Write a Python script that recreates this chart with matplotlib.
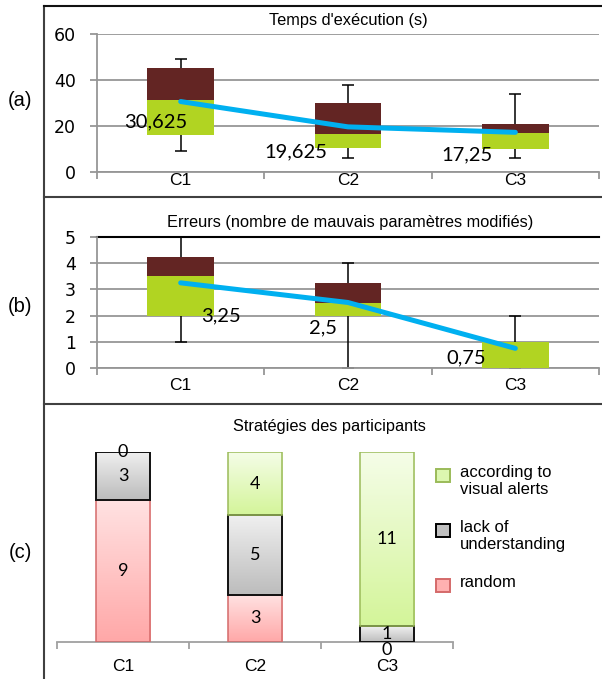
import numpy as np
import matplotlib
matplotlib.use('Agg')
import matplotlib.pyplot as plt
from matplotlib.colors import LinearSegmentedColormap
from matplotlib.patches import Rectangle
from matplotlib.lines import Line2D

plt.rcParams['font.family'] = ['Liberation Sans', 'DejaVu Sans']

categories = ['C1', 'C2', 'C3']

# (a) temps d'exécution : boîtes (q1, médiane, q3), moustaches, moyenne
time_q1 = [16, 10.5, 10]
time_med = [31.5, 16.5, 17]
time_q3 = [45, 30, 21]
time_min = [9, 6, 6]
time_max = [49, 38, 34]
time_mean = [30.625, 19.625, 17.25]

# (b) erreurs
err_q1 = [2, 2, 0]
err_med = [3.5, 2.5, 1]
err_q3 = [4.25, 3.25, 1]
err_min = [1, 0, 0]
err_max = [5, 4, 2]
err_mean = [3.25, 2.5, 0.75]

# (c) stratégies (empilées de bas en haut)
strategy_names = ['random', 'lack of\nunderstanding', 'according to\nvisual alerts']
random_cnt = [9, 3, 0]
lack_cnt = [3, 5, 1]
alerts_cnt = [0, 4, 11]

GREEN = '#b1d422'
DARK = '#632523'
BLUE = '#00b0f0'
GRID = '#969696'

W, H = 602, 679
fig = plt.figure(figsize=(W / 100, H / 100), dpi=100)


def px_rect(left, right, top, bottom):
    return [left / W, 1 - bottom / H, (right - left) / W, (bottom - top) / H]


def box_panel(ax, q1, med, q3, lo, hi, mean, ymax, step, offsets, xpad):
    q1, med, q3 = np.array(q1), np.array(med), np.array(q3)
    lo, hi = np.array(lo), np.array(hi)
    x = np.arange(len(categories)) + 0.5
    ax.errorbar(x, (lo + hi) / 2, yerr=(hi - lo) / 2, fmt='none', ecolor='black',
                elinewidth=1.1, capsize=4.3, capthick=1.1, zorder=2)
    ax.bar(x, med - q1, bottom=q1, width=0.4, color=GREEN, zorder=3)
    ax.bar(x, q3 - med, bottom=med, width=0.4, color=DARK, zorder=3)
    ax.plot(x, mean, color=BLUE, lw=3.6, solid_capstyle='round', zorder=4)
    for xi, m, (dx, dy) in zip(x, mean, offsets):
        ax.annotate(f'{m:g}'.replace('.', ','), (xi, m), xytext=(dx * 0.72, dy * 0.72),
                    textcoords='offset points', ha='center', va='center',
                    fontsize=14.5, family='Lato', zorder=5)
    ax.set_xlim(0, 3)
    ax.set_ylim(0, ymax)
    yt = np.arange(0, ymax + 0.1, step)
    ax.set_yticks(yt)
    ax.set_yticklabels([f'{t:g}' for t in yt], fontfamily='DejaVu Sans', fontsize=12.5)
    ax.tick_params(axis='y', length=5, width=1.3, color=GRID, pad=10)
    ax.set_xticks(x)
    ax.set_xticklabels(categories, fontsize=12.5)
    ax.set_xticks(np.arange(4), minor=True)
    ax.tick_params(axis='x', which='major', length=0, pad=xpad)
    ax.tick_params(axis='x', which='minor', length=5, width=1.3, color=GRID)
    ax.yaxis.grid(True, color=GRID, lw=1.3)
    ax.set_axisbelow(True)
    for s in ['top', 'right']:
        ax.spines[s].set_visible(False)
    for s in ['left', 'bottom']:
        ax.spines[s].set_color(GRID)
        ax.spines[s].set_linewidth(1.3)


ax_a = fig.add_axes(px_rect(97, 599, 34, 172))
box_panel(ax_a, time_q1, time_med, time_q3, time_min, time_max, time_mean, 60, 20,
          [(-25, -20), (-52, -25), (-48, -23)], xpad=1)

ax_b = fig.add_axes(px_rect(97, 599, 237, 368))
box_panel(ax_b, err_q1, err_med, err_q3, err_min, err_max, err_mean, 5, 1,
          [(40, -33), (-25, -25.5), (-49, -10)], xpad=7)
ax_b.axhline(5, color='black', lw=1.5, zorder=1, clip_on=False)

# (c) barres empilées avec dégradé
ax_c = fig.add_axes(px_rect(57, 453, 452, 642))
xc = np.arange(len(categories)) + 0.5
series = [
    (random_cnt, '#ffa8a8', '#ffe2e2', '#d46a6a', 1.1),
    (lack_cnt, '#bdbdbd', '#f0f0f0', '#111111', 1.4),
    (alerts_cnt, '#d4f59a', '#f5fde8', '#9bbb59', 1.1),
]
bottom = np.zeros(3)
for vals, c_bot, c_top, edge, lw in series:
    vals = np.array(vals, dtype=float)
    bars = ax_c.bar(xc, vals, bottom=bottom, width=0.41, facecolor='none',
                    edgecolor=edge, linewidth=lw, zorder=3)
    cmap = LinearSegmentedColormap.from_list('g', [c_bot, c_top])
    for b, v, b0 in zip(bars, vals, bottom):
        if v == 0:
            b.set_visible(False)
        else:
            x0 = b.get_x()
            im = ax_c.imshow(np.linspace(0, 1, 64).reshape(-1, 1), cmap=cmap, origin='lower',
                             aspect='auto', interpolation='bicubic', zorder=2,
                             extent=[x0, x0 + b.get_width(), b0, b0 + v])
            im.set_clip_path(b)
        dy = -8 if (v == 0 and b0 == 0) else 0
        ax_c.annotate(f'{v:g}', (b.get_x() + b.get_width() / 2, b0 + v / 2),
                      xytext=(0, dy * 0.72), textcoords='offset points',
                      ha='center', va='center', fontsize=13, family='Lato', zorder=5)
    bottom = bottom + vals

ax_c.set_xlim(0, 3)
ax_c.set_ylim(0, 12)
ax_c.set_yticks([])
ax_c.set_xticks(xc)
ax_c.set_xticklabels(categories, fontsize=12.5)
ax_c.set_xticks(np.arange(4), minor=True)
ax_c.tick_params(axis='x', which='major', length=0, pad=12)
ax_c.tick_params(axis='x', which='minor', length=5, width=1.3, color='#a0a0a0')
for s in ['top', 'right', 'left']:
    ax_c.spines[s].set_visible(False)
ax_c.spines['bottom'].set_color('#a0a0a0')
ax_c.spines['bottom'].set_linewidth(1.3)

# légende (carré aligné sur la première ligne, comme dans Excel)
legend_items = [
    (strategy_names[2], '#dcf7b0', '#9bbb59', 469),
    (strategy_names[1], '#c0c0c0', '#000000', 524),
    (strategy_names[0], '#ffb0b0', '#d46a6a', 579),
]
for name, fc, ec, top in legend_items:
    fig.add_artist(Rectangle((436 / W, 1 - (top + 13) / H), 14 / W, 13 / H,
                             transform=fig.transFigure, facecolor=fc, edgecolor=ec, lw=1.4))
    fig.text(460 / W, 1 - (top - 4) / H, name, ha='left', va='top', fontsize=12)

# titres
fig.text(348 / W, 1 - 20 / H, "Temps d'exécution (s)", ha='center', va='center', fontsize=11.8)
fig.text(350 / W, 1 - 223 / H, 'Erreurs (nombre de mauvais paramètres modifiés)',
         ha='center', va='center', fontsize=11.8)
fig.text(329 / W, 1 - 427 / H, 'Stratégies des participants', ha='center', va='center', fontsize=11.8)

for lab, y in [('(a)', 100), ('(b)', 307), ('(c)', 552)]:
    fig.text(20 / W, 1 - y / H, lab, ha='center', va='center', fontsize=14.5)

# cadre
frame = dict(transform=fig.transFigure, color='#404040', lw=1.5)
fig.add_artist(Line2D([44 / W, 44 / W], [0, 1 - 6 / H], **frame))
fig.add_artist(Line2D([44 / W, 1], [1 - 6 / H, 1 - 6 / H], **dict(frame, color='#111111')))
fig.add_artist(Line2D([44 / W, 1], [1 - 197 / H, 1 - 197 / H], **frame))
fig.add_artist(Line2D([44 / W, 1], [1 - 404 / H, 1 - 404 / H], **frame))

fig.savefig('out.png', dpi=100)
